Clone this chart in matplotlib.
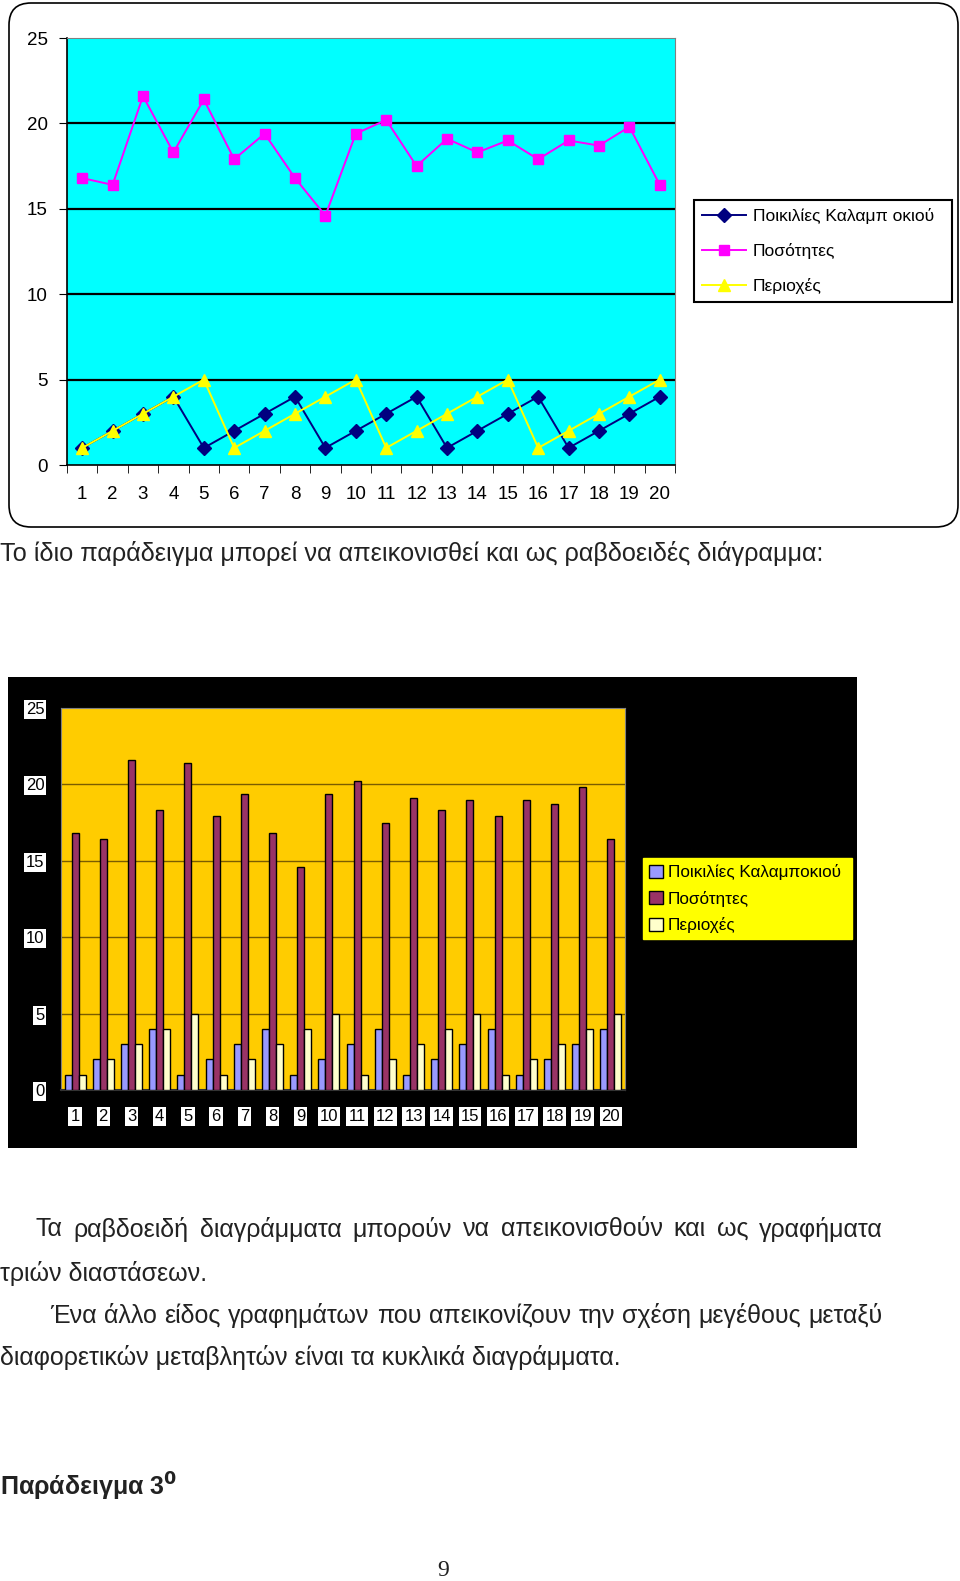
import numpy as np
import matplotlib
matplotlib.use('Agg')
import matplotlib.pyplot as plt
from matplotlib.patches import FancyBboxPatch, Rectangle, Patch
from matplotlib.lines import Line2D

plt.rcParams['font.family'] = ['Liberation Sans', 'DejaVu Sans']

W, H = 960, 1581

# data
cases = list(range(1, 21))
poikilies = [1, 2, 3, 4, 1, 2, 3, 4, 1, 2, 3, 4, 1, 2, 3, 4, 1, 2, 3, 4]
posotites = [16.8, 16.4, 21.6, 18.3, 21.4, 17.9, 19.4, 16.8, 14.6, 19.4,
             20.2, 17.5, 19.1, 18.3, 19.0, 17.9, 19.0, 18.7, 19.8, 16.4]
perioxes = [1, 2, 3, 4, 5, 1, 2, 3, 4, 5, 1, 2, 3, 4, 5, 1, 2, 3, 4, 5]
series_names = ['Ποικιλίες Καλαμποκιού', 'Ποσότητες', 'Περιοχές']
yticks = [0, 5, 10, 15, 20, 25]


def box(x0, y0, x1, y1):
    # pixel box (top-left origin) -> figure fraction rect
    return [x0 / W, 1 - y1 / H, (x1 - x0) / W, (y1 - y0) / H]


def ptext(x, y, s, **kw):
    return fig.text(x / W, 1 - y / H, s, va='center', ha=kw.pop('ha', 'left'), **kw)


def justified(x0, x1, y, s, **kw):
    # spread the words of one line between x0 and x1 (pixels)
    words = s.split(' ')
    r = fig.canvas.get_renderer()
    widths = []
    for w in words:
        t = ptext(0, y, w, **kw)
        widths.append(t.get_window_extent(r).width)
        t.remove()
    gap = (x1 - x0 - sum(widths)) / (len(words) - 1)
    xx = x0
    for w, wd in zip(words, widths):
        ptext(xx, y, w, **kw)
        xx += wd + gap


fig = plt.figure(figsize=(W / 100, H / 100), dpi=100)
fig.patch.set_facecolor('white')

# rounded frame around the first chart
frame = FancyBboxPatch((9 / 100, (H - 527) / 100), 949 / 100, 524 / 100,
                       boxstyle='round,pad=0,rounding_size=0.22',
                       transform=fig.dpi_scale_trans, facecolor='white',
                       edgecolor='black', linewidth=1.2, zorder=-2)
fig.patches.append(frame)

# ---- line chart ----
ax1 = fig.add_axes(box(67, 38, 675, 465))
ax1.set_facecolor('#00FFFF')
ax1.plot(cases, poikilies, color='#000080', marker='D', ms=7, lw=1.4, zorder=3)
ax1.plot(cases, posotites, color='#FF00FF', marker='s', ms=7, lw=1.4, zorder=3)
ax1.plot(cases, perioxes, color='#FFFF00', marker='^', ms=9, lw=1.4, zorder=3)
ax1.set_xlim(0.5, 20.5)
ax1.set_ylim(0, 25)
ax1.set_yticks(yticks)
for v in yticks[1:-1]:
    ax1.axhline(v, color='black', lw=1.6, zorder=1)
ax1.set_xticks(cases)
ax1.set_xticks(np.arange(0.5, 21, 1), minor=True)
ax1.tick_params(axis='x', which='major', length=0, pad=15, labelsize=13.5)
ax1.tick_params(axis='x', which='minor', length=6, direction='out', color='black')
ax1.tick_params(axis='y', length=6, direction='out', labelsize=13.5, pad=8)
for s in ['top', 'right']:
    ax1.spines[s].set_color('#808080')
for s in ['left', 'bottom']:
    ax1.spines[s].set_color('black')
    ax1.spines[s].set_linewidth(1.2)

h1 = [Line2D([], [], color='#000080', marker='D', ms=7, lw=1.4),
      Line2D([], [], color='#FF00FF', marker='s', ms=7, lw=1.4),
      Line2D([], [], color='#FFFF00', marker='^', ms=9, lw=1.4)]
leg1 = fig.legend(h1, series_names, loc='upper left',
                  bbox_to_anchor=(694 / W, 1 - 300 / H, 258 / W, 100 / H),
                  mode='expand', fontsize=12.6, frameon=True, fancybox=False,
                  edgecolor='black', framealpha=1, handlelength=2.5,
                  labelspacing=1.1, borderaxespad=0, handletextpad=0.4,
                  borderpad=0.45)
leg1.get_frame().set_linewidth(1.5)
# the original text has a gap in this word
leg1.get_texts()[0].set_text('Ποικιλίες Καλαμπ οκιού')

body = 18
ptext(0, 553, 'Το ίδιο παράδειγμα μπορεί να απεικονισθεί και ως ραβδοειδές διάγραμμα:',
      fontsize=18.2, color='#222222')

# ---- bar chart ----
fig.patches.append(Rectangle((8 / 100, (H - 1148) / 100), 849 / 100, 471 / 100,
                             transform=fig.dpi_scale_trans, facecolor='black',
                             edgecolor='none', zorder=-2))
ax2 = fig.add_axes(box(61, 708, 625, 1090))
ax2.set_facecolor('#FFCC00')
x = np.array(cases)
bw = 0.25
ax2.bar(x - bw, poikilies, bw, color='#9999FF', edgecolor='black', lw=1, zorder=3)
ax2.bar(x, posotites, bw, color='#993366', edgecolor='black', lw=1, zorder=3)
ax2.bar(x + bw, perioxes, bw, color='#FFFFCC', edgecolor='black', lw=1, zorder=3)
ax2.set_xlim(0.5, 20.5)
ax2.set_ylim(0, 25)
ax2.set_yticks(yticks)
for v in yticks[1:-1]:
    ax2.axhline(v, color='#7A5C00', lw=1, zorder=1)
ax2.set_xticks(cases)
ax2.tick_params(axis='x', length=0, pad=14, labelsize=12)
ax2.tick_params(axis='y', length=0, pad=12, labelsize=12)
for lbl in ax2.get_xticklabels() + ax2.get_yticklabels():
    lbl.set_bbox(dict(facecolor='white', edgecolor='none', pad=1.5))
for s in ['top', 'right', 'left']:
    ax2.spines[s].set_color('#808080')
ax2.spines['bottom'].set_color('#333333')
ax2.spines['bottom'].set_linewidth(1.5)

h2 = [Patch(facecolor='#9999FF', edgecolor='black'),
      Patch(facecolor='#993366', edgecolor='black'),
      Patch(facecolor='#FFFFCC', edgecolor='black')]
leg2 = fig.legend(h2, series_names, loc='upper left',
                  bbox_to_anchor=(643 / W, 1 - 940 / H, 209 / W, 82 / H),
                  mode='expand', fontsize=12.3, frameon=True, fancybox=False,
                  facecolor='#FFFF00', edgecolor='#FFFF00', framealpha=1,
                  handlelength=0.8, handleheight=0.8, labelspacing=0.62,
                  borderaxespad=0, handletextpad=0.3, borderpad=0.35)

# ---- body text ----
justified(36, 883, 1229,
          'Τα ραβδοειδή διαγράμματα μπορούν να απεικονισθούν και ως γραφήματα',
          fontsize=body, color='#222222')
ptext(0, 1273, 'τριών διαστάσεων.', fontsize=body, color='#222222')
justified(50, 883, 1316,
          'Ένα άλλο είδος γραφημάτων που απεικονίζουν την σχέση μεγέθους μεταξύ',
          fontsize=body, color='#222222')
ptext(0, 1358, 'διαφορετικών μεταβλητών είναι τα κυκλικά διαγράμματα.',
      fontsize=body, color='#222222')
ptext(0, 1487, r'Παράδειγμα 3$^{\mathbf{0}}$', fontsize=18, fontweight='bold',
      color='#222222')
ptext(443, 1570, '9', fontsize=17, family=['Liberation Serif'], ha='center',
      color='#222222')

fig.savefig('out.png', dpi=100, facecolor='white')
